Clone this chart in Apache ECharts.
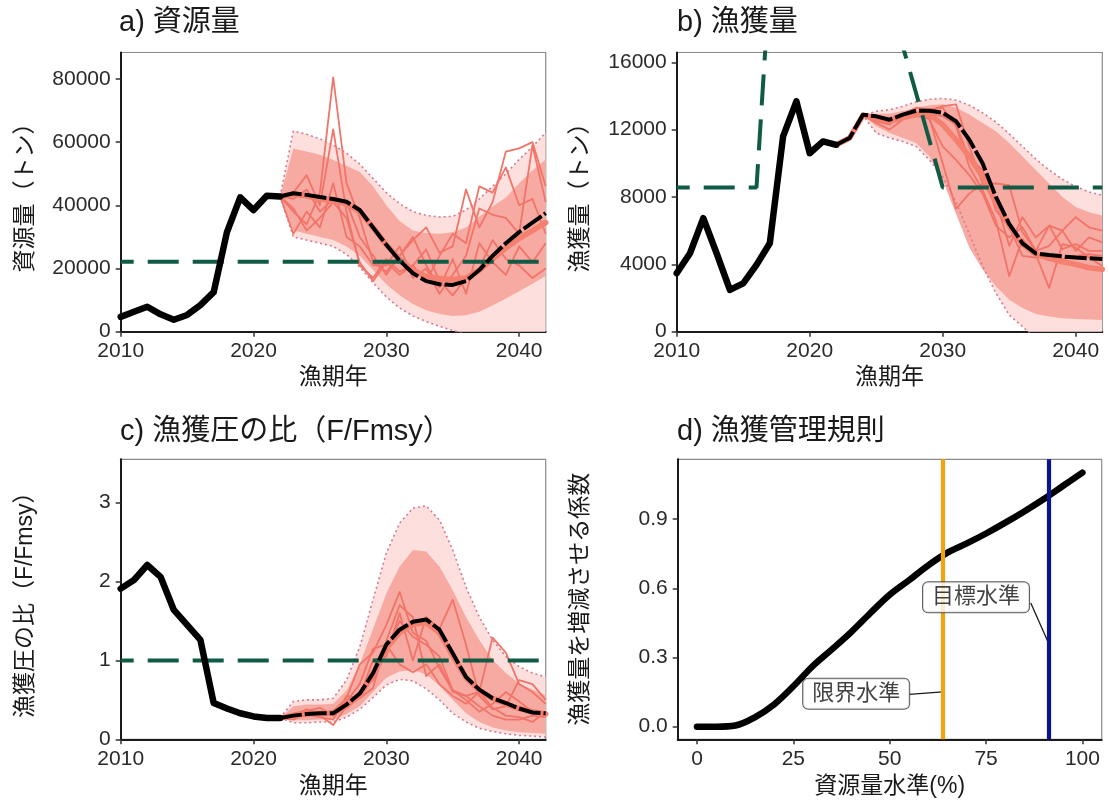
<!DOCTYPE html>
<html><head><meta charset="utf-8">
<script src="https://cdn.jsdelivr.net/npm/echarts@6/dist/echarts.min.js"></script>
<style>html,body{margin:0;padding:0;background:#fff}#c{width:1109px;height:804px}</style>
</head><body><div id="c"></div>
<script>
// ---------- data ----------
const histYears = [2010,2011,2012,2013,2014,2015,2016,2017,2018,2019,2020,2021,2022];
const futYears  = [2022,2023,2024,2025,2026,2027,2028,2029,2030,2031,2032,2033,2034,2035,2036,2037,2038,2039,2040,2041,2042];
const yearTicks = [2010,2020,2030,2040];

// a) 資源量
const aHist    = [4700,6300,7900,5500,3800,5300,8400,12500,31500,42500,38500,43000,42800];
const aMean    = [42800,43800,43300,42600,42000,41100,38500,33000,27500,22500,18500,16000,15000,14800,16000,19500,24000,28000,31500,34500,37500];
const aMedian  = [42800,43500,43000,42000,41500,40500,38000,33000,27500,23000,19500,17500,16800,16500,17000,19500,23000,26500,29500,32000,34500];
const aOuterHi = [42800,63500,62500,61000,59000,56500,53000,48500,44000,40500,38000,36800,36300,36500,38500,42000,46000,50000,54500,58500,63000];
const aInnerHi = [42800,58000,57000,56000,54300,52500,50500,46000,40000,35000,32000,31200,31000,31500,33000,36400,39600,42500,47000,51000,54500];
const aInnerLo = [42800,32000,31000,30000,29000,27000,24000,19500,15000,11500,8800,6800,5600,5000,5200,6300,8300,10500,12800,15200,17600];
const aOuterLo = [42800,30000,29000,28000,27000,24500,20500,15500,11000,7500,5000,3200,1700,400,-800,-1800,-2600,-3300,-3800,-4200,-4500];
const aTraj1 = [42800,38000,34000,44000,80500,47000,36000,22000,19000,24000,29000,33000,25000,27000,45000,33000,41000,57000,58000,60000,46000];
const aTraj2 = [42800,44000,49500,40000,64000,38000,21000,17000,23000,19000,21000,16000,24000,31000,28000,46000,44000,52000,40000,42000,31000];
const aTraj3 = [42800,31000,38000,33000,47000,30000,27000,21000,21000,27000,17000,20000,12000,18000,24000,39000,37000,36000,31000,59000,41000];
const aTraj4 = [42800,39000,32000,36000,41000,36000,22000,16000,22000,18000,21000,26000,16000,11500,17000,20000,29000,23000,21000,17000,20000];
const aTraj5 = [42800,42000,45000,38000,42000,41000,30000,24000,18000,24000,30000,21000,14000,23000,12000,28000,22000,18000,27000,22000,28000];
const aRefYears = [2010,2042];
const aRefVals  = [22150,22150];
const aTicks = [0,20000,40000,60000,80000];

// b) 漁獲量
const bHist    = [3470,4660,6740,4660,2480,2870,3970,5250,11600,13680,10600,11300,11100];
const bMean    = [11100,11500,12890,12790,12590,12890,13120,13120,13000,12500,11400,10000,8000,6400,5250,4650,4550,4470,4400,4360,4320];
const bMedian  = [11100,11500,12850,12700,12500,12700,12900,12900,12300,11400,10400,9200,7700,6300,5200,4600,4350,4150,4000,3800,3700];
const bOuterHi = [11100,11500,12850,13090,13180,13380,13650,13800,13850,13750,13450,13000,12450,11750,11000,10250,9600,9050,8620,8300,8100];
const bInnerHi = [11100,11500,12850,12950,12950,13100,13300,13450,13500,13300,12900,12400,11900,11200,10400,9600,8800,8000,7400,7100,6900];
const bInnerLo = [11100,11500,12850,12200,11800,11500,11200,10400,9000,7000,5000,3700,2700,1900,1400,1050,900,800,750,720,700];
const bOuterLo = [11100,11500,12850,11800,11500,11300,11000,10200,9200,7700,5800,3900,2300,1000,300,-400,-900,-1300,-1600,-1800,-2000];
const bTraj1 = [11100,11500,12850,12600,12500,12700,12800,12700,10000,7300,8200,8800,7800,5100,6800,5600,6300,6000,6800,6200,6000];
const bTraj2 = [11100,11500,12850,12500,12300,12900,13300,13200,13300,12200,9800,8400,6600,3300,5500,4600,2600,5200,5000,4400,3900];
const bTraj3 = [11100,11500,12850,12700,12600,12800,13000,13100,13400,13500,11000,8800,8800,8700,5900,4800,5100,6000,4800,5600,5300];
const bTraj4 = [11100,11500,12850,12400,12000,12600,13000,12600,11000,10200,9300,8200,6300,5600,6200,4800,6300,4900,5200,4800,4800];
const bTraj5 = [11100,11500,12850,12700,12700,12800,12900,12900,12800,12300,10300,9600,7200,6200,4500,4400,4500,4300,4500,4600,4500];
const bRefYears = [2010,2016,2017,2018,2019,2020,2021,2022,2023,2024,2025,2026,2027,2028,2029,2030,2042];
const bRefVals  = [8570,8570,21000,26000,29000,27000,27500,26500,25000,23500,22000,19800,16950,14160,11370,8570,8570];
const bTicks = [0,4000,8000,12000,16000];

// c) 漁獲圧の比
const cHist    = [1.91,2.02,2.21,2.06,1.64,1.45,1.26,0.46,0.39,0.33,0.29,0.27,0.27];
const cMean    = [0.27,0.30,0.32,0.33,0.33,0.44,0.58,0.84,1.20,1.39,1.49,1.52,1.39,1.09,0.79,0.63,0.52,0.46,0.39,0.34,0.33];
const cMedian  = [0.27,0.30,0.32,0.33,0.33,0.42,0.56,0.82,1.15,1.35,1.46,1.48,1.35,1.06,0.78,0.62,0.52,0.45,0.39,0.35,0.32];
const cOuterHi = [0.27,0.48,0.50,0.50,0.52,0.75,1.17,1.77,2.36,2.74,2.93,2.96,2.78,2.40,1.93,1.55,1.26,1.05,0.92,0.84,0.79];
const cInnerHi = [0.27,0.42,0.44,0.44,0.45,0.62,0.95,1.40,1.85,2.19,2.40,2.38,2.19,1.89,1.55,1.26,1.01,0.84,0.71,0.63,0.56];
const cInnerLo = [0.27,0.24,0.24,0.25,0.25,0.32,0.42,0.60,0.78,0.86,0.88,0.82,0.68,0.50,0.33,0.22,0.15,0.11,0.09,0.08,0.07];
const cOuterLo = [0.27,0.21,0.21,0.22,0.22,0.28,0.38,0.53,0.69,0.76,0.74,0.64,0.50,0.33,0.22,0.14,0.10,0.07,0.05,0.04,0.03];
const cTraj1 = [0.27,0.30,0.38,0.33,0.36,0.52,0.95,1.10,1.45,1.87,1.35,1.25,0.90,0.62,0.55,0.60,1.29,1.10,0.70,0.60,0.45];
const cTraj2 = [0.27,0.25,0.33,0.30,0.18,0.42,0.55,1.00,1.05,1.60,1.00,1.55,1.40,1.77,1.20,0.55,0.38,0.42,0.75,0.70,0.50];
const cTraj3 = [0.27,0.33,0.36,0.40,0.30,0.48,0.70,1.15,1.20,0.95,0.85,0.95,0.70,0.55,0.45,0.60,0.40,0.30,0.28,0.22,0.35];
const cTraj4 = [0.27,0.28,0.30,0.33,0.35,0.40,0.60,0.75,1.10,1.50,1.30,1.20,1.05,0.62,0.50,0.35,0.45,0.60,0.48,0.35,0.30];
const cTraj5 = [0.27,0.30,0.32,0.28,0.25,0.55,0.52,0.65,1.25,1.70,1.55,0.80,0.95,0.60,0.55,0.42,0.30,0.25,0.25,0.30,0.28];
const cRefYears = [2010,2042];
const cRefVals  = [1,1];
const cTicks = [0,1,2,3];

// d) 漁獲管理規則
const dX = [0,5,10,15,20,25,30,35,40,45,50,55,60,65,70,75,80,85,90,95,100];
const dY = [0,0,0.005,0.04,0.096,0.175,0.262,0.335,0.41,0.493,0.572,0.635,0.70,0.755,0.795,0.838,0.885,0.935,0.988,1.045,1.102];
const limitX = 63.7, targetX = 91.2;
const dXTicks = [0,25,50,75,100];
const dYTicks = [0,0.3,0.6,0.9];
const labelNames = ['限界水準','目標水準'];
const labelPos   = [[41.3,0.143],[72.4,0.561]];
const connFrom   = [[55.1,0.140],[86.6,0.536]];
const connTo     = [[limitX,0.151],[targetX,0.363]];

// ---------- styling ----------
const FONT = "'Liberation Sans', 'Noto Sans CJK JP', sans-serif";
const C = {outer:'#FDE0DD', inner:'#F7AAA2', dot:'#D8778F', traj:'#F27468', median:'#F5806F',
           green:'#0F5B45', orange:'#F2A30F', blue:'#0B1490'};
const pairs = (xs, ys) => xs.map((x,i)=>[x, ys[i]]);

function bandSeries(g, lo, hi, color){
  return {type:'custom', xAxisIndex:g, yAxisIndex:g, silent:true, z:1, animation:false,
    data:[[futYears[0], lo[0]]],
    renderItem:(params, api) => {
      const pts = futYears.map((x,i)=>api.coord([x, hi[i]]));
      for (let i=futYears.length-1; i>=0; i--) pts.push(api.coord([futYears[i], lo[i]]));
      const cs = params.coordSys;
      return {type:'group', children:[{type:'polygon', shape:{points:pts}, style:{fill:color, stroke:null}}],
        clipPath:{type:'rect', shape:{x:cs.x, y:cs.y, width:cs.width, height:cs.height}}};
    }};
}

function panelSeries(g, d){
  const base = {type:'line', xAxisIndex:g, yAxisIndex:g, symbol:'none', silent:true, animation:false};
  const s = [];
  s.push(bandSeries(g, d.outerLo, d.outerHi, C.outer));
  s.push(bandSeries(g, d.innerLo, d.innerHi, C.inner));
  s.push(Object.assign({}, base, {data:pairs(futYears,d.outerHi), lineStyle:{color:C.dot, width:1.6, type:[2,3]}}));
  s.push(Object.assign({}, base, {data:pairs(futYears,d.outerLo), lineStyle:{color:C.dot, width:1.6, type:[2,3]}}));
  d.traj.forEach(t => s.push(Object.assign({}, base, {data:pairs(futYears,t), lineStyle:{color:C.traj, width:1.8, join:'round'}})));
  s.push(Object.assign({}, base, {data:pairs(futYears,d.median), lineStyle:{color:C.median, width:5.5, join:'round', cap:'round'}}));
  s.push(Object.assign({}, base, {data:pairs(d.refX,d.refY), lineStyle:{color:C.green, width:4, type:[31,14], dashOffset:18}}));
  s.push(Object.assign({}, base, {data:pairs(histYears,d.hist), lineStyle:{color:'#000', width:6.5, join:'round', cap:'round'}}));
  s.push(Object.assign({}, base, {data:pairs(futYears,d.mean), lineStyle:{color:'#000', width:4, type:[22,3], join:'round'}}));
  return s;
}

function xAxisDef(g, min, max, ticks, name, gap, fmt){
  return {type:'value', gridIndex:g, min:min, max:max,
    axisLine:{show:true, onZero:false, lineStyle:{color:'#1a1a1a', width:2}},
    axisTick:{show:true, length:5, customValues:ticks, lineStyle:{color:'#333', width:1.5}},
    axisLabel:{customValues:ticks, fontSize:21, color:'#2a2a2a', fontFamily:FONT, margin:9.5, formatter: fmt || (v=>String(v))},
    splitLine:{show:false},
    name:name, nameLocation:'middle', nameGap:gap,
    nameTextStyle:{fontSize:23, color:'#1a1a1a', fontFamily:FONT}};
}
function yAxisDef(g, min, max, ticks, name, gap, fmt){
  const a = xAxisDef(g, min, max, ticks, name, gap, fmt);
  a.axisLabel.margin = 10;
  return a;
}

const grids = [
  {left:120.7, top:52.5, width:425, height:279.2},
  {left:676.7, top:52.5, width:425.6, height:279.2},
  {left:120.7, top:459.3, width:425, height:280},
  {left:677.7, top:459.3, width:424, height:280}
].map(g => Object.assign(g, {show:true, borderColor:'#8a8a8a', borderWidth:1.2, backgroundColor:'transparent'}));

const titleStyle = {fontSize:29, fontWeight:'normal', color:'#1a1a1a', fontFamily:FONT};
const titles = [
  {text:'a) 資源量', left:119, top:8},
  {text:'b) 漁獲量', left:677, top:8},
  {text:'c) 漁獲圧の比（F/Fmsy）', left:120, top:417},
  {text:'d) 漁獲管理規則', left:677, top:417}
].map(t => Object.assign(t, {padding:0, textStyle:titleStyle}));

let series = [];
series = series.concat(panelSeries(0, {hist:aHist, mean:aMean, median:aMedian, outerHi:aOuterHi, innerHi:aInnerHi, innerLo:aInnerLo, outerLo:aOuterLo, traj:[aTraj1,aTraj2,aTraj3,aTraj4,aTraj5], refX:aRefYears, refY:aRefVals}));
series = series.concat(panelSeries(1, {hist:bHist, mean:bMean, median:bMedian, outerHi:bOuterHi, innerHi:bInnerHi, innerLo:bInnerLo, outerLo:bOuterLo, traj:[bTraj1,bTraj2,bTraj3,bTraj4,bTraj5], refX:bRefYears, refY:bRefVals}));
series = series.concat(panelSeries(2, {hist:cHist, mean:cMean, median:cMedian, outerHi:cOuterHi, innerHi:cInnerHi, innerLo:cInnerLo, outerLo:cOuterLo, traj:[cTraj1,cTraj2,cTraj3,cTraj4,cTraj5], refX:cRefYears, refY:cRefVals}));

// panel d
series.push({type:'line', xAxisIndex:3, yAxisIndex:3, data:pairs(dX,dY), smooth:0.35, symbol:'none', silent:true, z:2,
  lineStyle:{color:'#000', width:6.5, cap:'round', join:'round'}});
[[limitX, C.orange],[targetX, C.blue]].forEach(([x,col]) => {
  series.push({type:'line', xAxisIndex:3, yAxisIndex:3, data:[], z:3, silent:true,
    markLine:{silent:true, symbol:['none','none'], animation:false, label:{show:false},
      lineStyle:{color:col, width:4.2, type:'solid'}, data:[{xAxis:x}]}});
});
connFrom.forEach((p,i) => {
  series.push({type:'line', xAxisIndex:3, yAxisIndex:3, data:[p, connTo[i]], symbol:'none', silent:true, z:4,
    lineStyle:{color:'#1a1a1a', width:1.3}});
});
series.push({type:'scatter', xAxisIndex:3, yAxisIndex:3, symbolSize:1, itemStyle:{color:'rgba(0,0,0,0)'}, silent:true, z:5,
  data: labelNames.map((n,i)=>({name:n, value:labelPos[i]})),
  label:{show:true, position:'inside', formatter:'{b}', fontSize:22, color:'#111', fontFamily:FONT,
    backgroundColor:'#fff', borderColor:'#333', borderWidth:1, borderRadius:5, padding:[4,9]}});

const option = {
  animation:false,
  backgroundColor:'#fff',
  title:titles,
  grid:grids,
  xAxis:[
    xAxisDef(0, 2010, 2042, yearTicks, '漁期年', 34.5),
    xAxisDef(1, 2010, 2042, yearTicks, '漁期年', 34.5),
    xAxisDef(2, 2010, 2042, yearTicks, '漁期年', 36),
    xAxisDef(3, -5, 105, dXTicks, '資源量水準(%)', 36)
  ],
  yAxis:[
    yAxisDef(0, 0, 88350, aTicks, '資源量（トン）', 84),
    yAxisDef(1, 0, 16580, bTicks, '漁獲量（トン）', 85),
    yAxisDef(2, 0, 3.55, cTicks, '漁獲圧の比（F/Fmsy）', 84),
    yAxisDef(3, -0.055, 1.16, dYTicks, '漁獲量を増減させる係数', 86, v=>v.toFixed(1))
  ],
  series:series
};
const chart = echarts.init(document.getElementById('c'), null, {renderer:'canvas', width:1109, height:804});
chart.setOption(option);
</script></body></html>
